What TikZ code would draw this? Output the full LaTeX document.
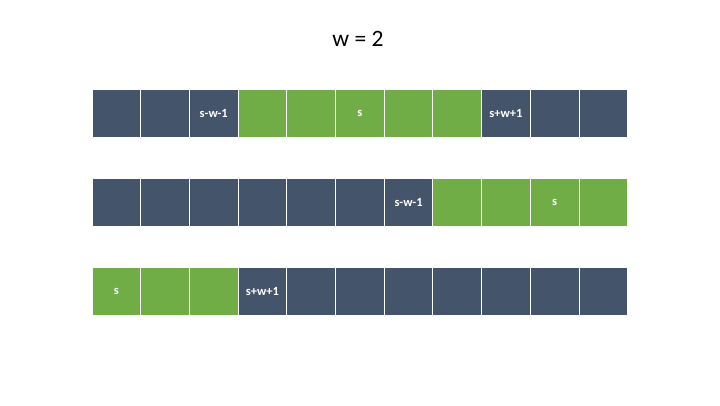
\documentclass[tikz,border=0pt]{standalone}
\usepackage{fontspec}
\setmainfont{Carlito}
\definecolor{dk}{HTML}{44546A}
\definecolor{gr}{HTML}{70AD47}
\begin{document}
\begin{tikzpicture}[x=1pt,y=-1pt,
  cell/.style={draw=white,line width=1pt,minimum width=48.7pt,minimum height=47.5pt,inner sep=0pt,text=white,font=\fontsize{12.5}{15}\selectfont\bfseries,anchor=center},
  D/.style={cell,fill=dk},
  G/.style={cell,fill=gr}]
\useasboundingbox (0,0) rectangle (720,405);
\node[font=\fontsize{23.5}{28}\selectfont] (title) at (358,39) {w = 2};
% row 1
\foreach \c/\s/\t [count=\i from 0] in {D/a/,D/b/,D/c/s-w-1,G/d/,G/e/,G/f/s,G/g/,G/h/,D/i/s+w+1,D/j/,D/k/}
  \node[\c] (r1\s) at ({92+48.7*\i+24.35},113.5) {\t};
% row 2
\foreach \c/\s/\t [count=\i from 0] in {D/a/,D/b/,D/c/,D/d/,D/e/,D/f/,D/g/s-w-1,G/h/,G/i/,G/j/s,G/k/}
  \node[\c] (r2\s) at ({92+48.7*\i+24.35},202.5) {\t};
% row 3
\foreach \c/\s/\t [count=\i from 0] in {G/a/s,G/b/,G/c/,D/d/s+w+1,D/e/,D/f/,D/g/,D/h/,D/i/,D/j/,D/k/}
  \node[\c] (r3\s) at ({92+48.7*\i+24.35},291.5) {\t};
\end{tikzpicture}
\end{document}
